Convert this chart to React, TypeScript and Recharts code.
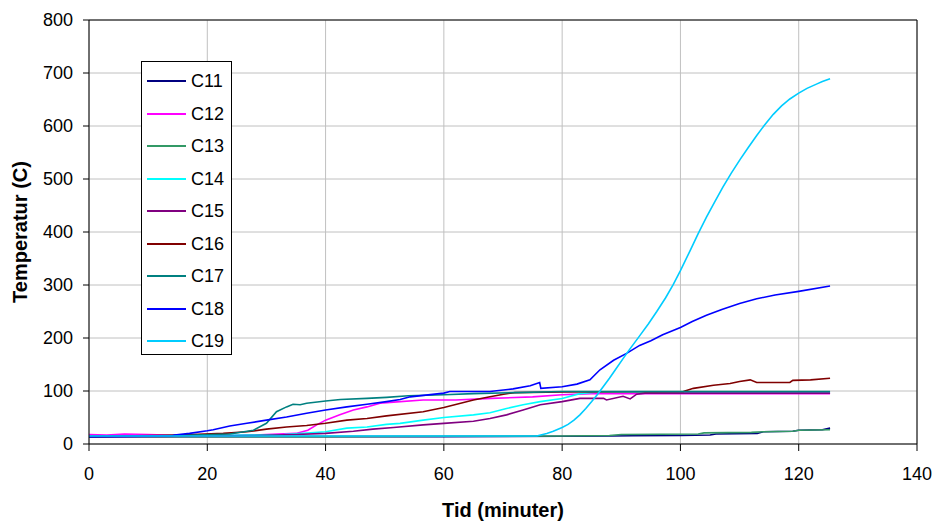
import React from 'react';
import { LineChart, Line, XAxis, YAxis, CartesianGrid, Legend, ReferenceLine, Label } from 'recharts';

const xTicks = [0, 20, 40, 60, 80, 100, 120, 140];
const yTicks = [0, 100, 200, 300, 400, 500, 600, 700, 800];

const seriesNames = ['C11', 'C12', 'C13', 'C14', 'C15', 'C16', 'C17', 'C18', 'C19'];
const seriesColors = ['#000080', '#FF00FF', '#339966', '#00FFFF', '#800080', '#800000', '#008080', '#0000FF', '#00CCFF'];

// [time (min), temperature (C)]
const C11: [number, number][] = [
  [0, 14], [20, 14], [40, 14], [60, 14], [80, 14.5], [88, 15], [92, 15.5], [100, 16], [105, 17], [106, 19],
  [113, 20], [114, 23], [119, 24], [120, 26], [124, 27], [125.3, 30],
];
const C12: [number, number][] = [
  [0, 18], [3, 17], [6, 19], [10, 18], [13, 17], [16, 16], [20, 15], [28, 17], [35, 20], [37, 26], [38.5, 36],
  [40, 45], [42.4, 55], [44.7, 64], [47, 70], [49.2, 77], [51.5, 79], [56.5, 83], [62, 83], [68, 86], [75, 89],
  [80, 93], [85, 95], [125.3, 95],
];
const C13: [number, number][] = [
  [0, 14], [40, 14], [60, 14.5], [80, 15], [88, 16], [90, 18], [103, 19], [104, 21], [112, 22], [114, 23],
  [119, 24], [120, 26], [125.3, 27],
];
const C14: [number, number][] = [
  [0, 13], [15, 15], [33, 18], [40, 23], [43.6, 30], [47, 32], [50.3, 37], [52.6, 39], [56.5, 45], [60, 50],
  [65, 55], [67.8, 59], [70.6, 67], [73.4, 74], [76.3, 80], [80, 86], [83, 95], [86, 98], [125.3, 98],
];
const C15: [number, number][] = [
  [0, 13], [27.8, 16], [35, 18], [40, 20], [44.7, 24], [48, 28], [51.5, 31], [56.5, 36], [60, 39], [65, 43],
  [67.8, 48], [70.6, 55], [73.4, 64], [76.3, 74], [80, 80], [83, 86], [87, 86], [87.5, 83], [90.3, 90],
  [91.5, 85], [92.6, 94], [94, 96], [125.3, 96],
];
const C16: [number, number][] = [
  [0, 14], [15.4, 17], [22.7, 20], [26.7, 23], [30, 28], [33.4, 32], [36.8, 35], [40, 39], [43.6, 45], [47, 48],
  [50.3, 53], [56.5, 61], [60, 69], [65, 83], [67.8, 89], [70.1, 94], [72, 97], [80, 98], [100.5, 99],
  [102.2, 105], [105.6, 111], [108.4, 114], [110, 118], [111.8, 121], [112.9, 116], [118.5, 116], [119, 120],
  [122, 121], [125.3, 124],
];
const C17: [number, number][] = [
  [0, 14], [15, 16], [23.8, 19], [27.8, 26], [30, 39], [31.7, 61], [33.4, 70], [34.5, 75], [35.7, 74],
  [36.8, 77], [40, 81], [42.5, 84], [47, 86], [50.3, 88], [54, 91], [60, 93], [65, 95], [72, 97], [80, 99],
  [125.3, 99],
];
const C18: [number, number][] = [
  [0, 14], [14, 15], [14.5, 17], [17, 20], [20, 25], [21, 27], [23.8, 34], [26.7, 39], [30, 45], [33.4, 51],
  [36.8, 58], [40, 64], [43.6, 70], [47, 75], [50.3, 80], [52.6, 84], [54.3, 89], [60, 96], [61, 99],
  [67.8, 99], [71.7, 104], [74.6, 110], [76.2, 116], [76.4, 105], [80, 108], [82.5, 113], [84.7, 121],
  [86.4, 140], [88.7, 158], [90.9, 171], [93.1, 186], [95, 195], [97, 206], [100, 220], [102, 231],
  [104.4, 243], [107, 254], [110, 265], [112.9, 274], [116, 281], [120, 288], [125.3, 298],
];
const C19: [number, number][] = [
  [0, 15], [20, 15], [40, 15], [60, 15], [75.7, 15], [77.4, 20], [78.5, 24], [80, 31], [81, 37], [82, 45],
  [83, 55], [84, 67], [85, 80], [86, 94], [87, 109], [88, 124], [89, 140], [90.3, 161], [91.5, 180],
  [93.1, 204], [94.6, 227], [96, 250], [97.5, 276], [98.8, 301], [100, 327], [101.6, 364], [103, 397],
  [104.4, 428], [105.8, 457], [107.2, 485], [108.6, 511], [110.1, 537], [111.5, 560], [112.9, 582],
  [114.3, 603], [115.7, 622], [117.1, 638], [118.5, 651], [120, 662], [121.4, 671], [123, 679], [124, 684],
  [125.3, 689],
];

const seriesValues = [C11, C12, C13, C14, C15, C16, C17, C18, C19];

const toData = (pts: [number, number][]) => pts.map(([t, v]) => ({ t, v }));

const FONT = '"Liberation Sans", Arial, Helvetica, sans-serif';

function LegendBox() {
  return (
    <div
      style={{
        boxSizing: 'border-box',
        width: 91,
        height: 294,
        border: '1px solid #000',
        background: '#fff',
        paddingTop: 3,
        fontFamily: FONT,
      }}
    >
      {seriesNames.map((n, i) => (
        <div key={n} style={{ height: 32.5, display: 'flex', alignItems: 'center' }}>
          <svg width={49} height={10} style={{ display: 'block' }}>
            <line x1={5} x2={44} y1={5} y2={5} stroke={seriesColors[i]} strokeWidth={2} />
          </svg>
          <span style={{ fontSize: 18, color: '#000', lineHeight: '18px' }}>{n}</span>
        </div>
      ))}
    </div>
  );
}

export default function App() {
  return (
    <div style={{ position: 'absolute', left: 0, top: 0, width: 937, height: 525, background: '#fff' }}>
      <LineChart width={937} height={525} margin={{ top: 20, right: 20, bottom: 0, left: 0 }}>
        <CartesianGrid stroke="#c0c0c0" strokeWidth={1} />
        <XAxis
          dataKey="t"
          type="number"
          domain={[0, 140]}
          ticks={xTicks}
          allowDataOverflow
          height={81}
          tickSize={7}
          tickMargin={16}
          tick={{ fill: '#000', fontSize: 18, fontFamily: FONT }}
          axisLine={{ stroke: '#000' }}
          tickLine={{ stroke: '#000' }}
        >
          <Label
            value="Tid (minuter)"
            position="insideBottom"
            offset={8}
            style={{ fontWeight: 'bold', fontSize: 20, fill: '#000', fontFamily: FONT }}
          />
        </XAxis>
        <YAxis
          type="number"
          domain={[0, 800]}
          ticks={yTicks}
          allowDataOverflow
          width={89}
          tickSize={6}
          tickMargin={10}
          tick={{ fill: '#000', fontSize: 18, fontFamily: FONT }}
          axisLine={{ stroke: '#000' }}
          tickLine={{ stroke: '#000' }}
        >
          <Label
            content={() => (
              <text
                x={27}
                y={232}
                transform="rotate(-90 27 232)"
                textAnchor="middle"
                style={{ fontWeight: 'bold', fontSize: 20, fill: '#000', fontFamily: FONT }}
              >
                Temperatur (C)
              </text>
            )}
          />
        </YAxis>
        <ReferenceLine y={800} stroke="#000" strokeWidth={1} />
        <ReferenceLine x={140} stroke="#000" strokeWidth={1} />
        {seriesValues.map((vals, i) => (
          <Line
            key={seriesNames[i]}
            data={toData(vals)}
            dataKey="v"
            name={seriesNames[i]}
            type="linear"
            stroke={seriesColors[i]}
            strokeWidth={1.6}
            dot={false}
            activeDot={false}
            isAnimationActive={false}
          />
        ))}
        <Legend
          content={<LegendBox />}
          layout="vertical"
          align="center"
          verticalAlign="middle"
          wrapperStyle={{ left: 141, top: 61, width: 91, height: 294 }}
        />
      </LineChart>
    </div>
  );
}
